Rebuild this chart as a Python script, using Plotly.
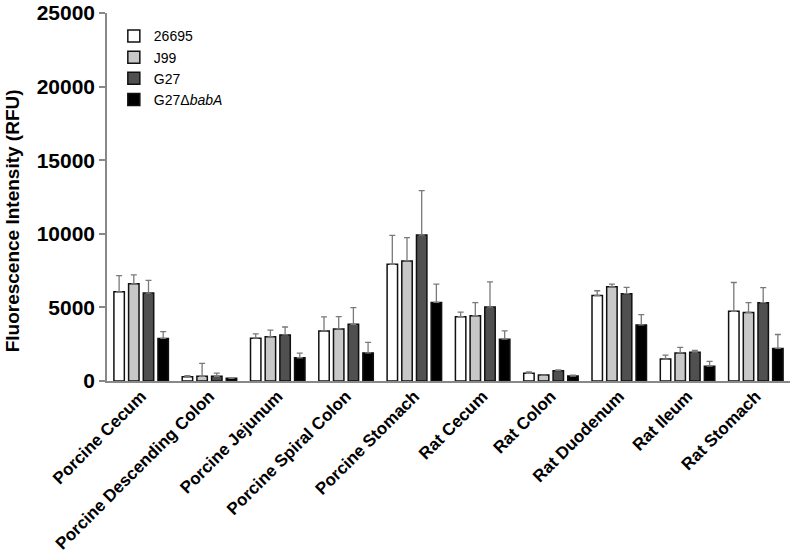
import plotly.graph_objects as go

categories = ["Porcine Cecum", "Porcine Descending Colon", "Porcine Jejunum",
              "Porcine Spiral Colon", "Porcine Stomach", "Rat Cecum", "Rat Colon",
              "Rat Duodenum", "Rat Ileum", "Rat Stomach"]

strains = ["26695", "J99", "G27", "G27\u0394<i>babA</i>"]

v_26695 = [6060, 290, 2910, 3400, 7930, 4370, 520, 5810, 1490, 4730]
e_26695 = [1100, 70, 290, 950, 1960, 310, 90, 320, 270, 1960]

v_j99 = [6600, 320, 3000, 3540, 8160, 4440, 400, 6400, 1910, 4660]
e_j99 = [610, 880, 450, 830, 1580, 880, 0, 180, 370, 660]

v_g27 = [5970, 320, 3130, 3850, 9920, 5020, 700, 5930, 1960, 5320]
e_g27 = [860, 220, 540, 1130, 3010, 1720, 50, 430, 120, 1030]

v_babA = [2890, 180, 1580, 1910, 5340, 2840, 340, 3810, 1010, 2210]
e_babA = [470, 0, 320, 720, 1240, 560, 50, 700, 320, 950]

y_ticks = [0, 5000, 10000, 15000, 20000, 25000]
y_title = "Fluorescence Intensity (RFU)"

values = [v_26695, v_j99, v_g27, v_babA]
errors = [e_26695, e_j99, e_g27, e_babA]
colors = ["#ffffff", "#c8c8c8", "#505050", "#000000"]

fig = go.Figure()
for name, v, e, c in zip(strains, values, errors, colors):
    fig.add_trace(go.Bar(
        name=name, x=categories, y=v,
        marker=dict(color=c, line=dict(color="#111111", width=1.5)),
        error_y=dict(type="data", array=e, arrayminus=[0] * len(e), symmetric=False,
                     color="#7a7a7a", thickness=1.3, width=3),
    ))

fig.update_layout(
    barmode="group", bargap=0.14, bargroupgap=0.29,
    width=800, height=558,
    margin=dict(l=107, r=10, t=13, b=177, autoexpand=False),
    plot_bgcolor="white", paper_bgcolor="white",
    font=dict(family="Arial, Liberation Sans, sans-serif", color="#000000"),
    legend=dict(x=0.01, y=0.98, xanchor="left", yanchor="top",
                font=dict(size=14), bgcolor="rgba(0,0,0,0)", tracegroupgap=1),
    showlegend=True,
)

fig.add_annotation(
    text="<b>" + y_title + "</b>", textangle=-90,
    xref="paper", yref="paper", x=-0.139, y=0.434,
    xanchor="center", yanchor="middle", showarrow=False,
    font=dict(size=19, family="Arial, Liberation Sans", color="#000000"),
)

fig.update_yaxes(
    range=[0, 25000], tickvals=y_ticks,
    ticktext=["<b>" + str(t) + "</b>" for t in y_ticks],
    ticklabeloverflow="allow", automargin=False,
    showgrid=False, zeroline=False,
    showline=True, linecolor="#888888", linewidth=1.5,
    ticks="outside", ticklen=6, tickcolor="#888888", tickwidth=1.5,
    tickfont=dict(size=21, family="Arial, Liberation Sans", color="#000000"),
)

fig.update_xaxes(
    showgrid=False, showline=True, linecolor="#888888", linewidth=1.5,
    ticks="", tickangle=-45, automargin=False, ticklabelstandoff=-3,
    tickfont=dict(size=17, family="Arial, Liberation Sans", color="#000000"),
    tickvals=categories,
    ticktext=["<b>" + c + "</b>" for c in categories],
)

fig.write_html("out.html", config={"displayModeBar": False},
               post_script="document.body.style.margin='0px';document.body.style.overflow='hidden';")
